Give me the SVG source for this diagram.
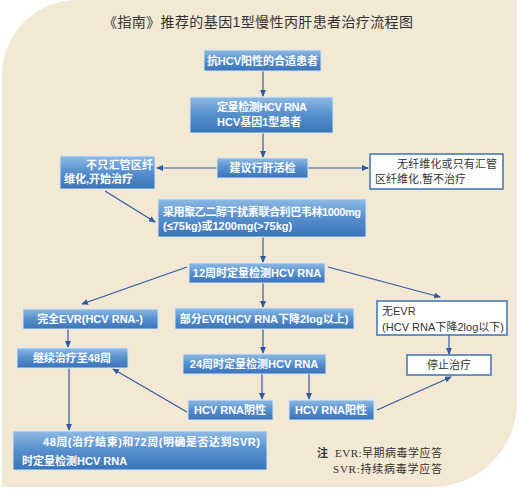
<svg xmlns="http://www.w3.org/2000/svg" width="519" height="491" viewBox="0 0 519 491">
<defs>
<linearGradient id="bg" x1="0" y1="0" x2="0" y2="1">
<stop offset="0" stop-color="#8fbbe6"/>
<stop offset="0.45" stop-color="#5a92cf"/>
<stop offset="1" stop-color="#3a73b8"/>
</linearGradient>
<marker id="ah" markerWidth="7" markerHeight="6" refX="6" refY="3" orient="auto" markerUnits="userSpaceOnUse">
<path d="M0,0 L7,3 L0,6 z" fill="#2f5ba5"/>
</marker>
<style>
.b{fill:url(#bg);stroke:#d6e5f4;stroke-width:1}
.w{fill:#ffffff;stroke:#3b72b6;stroke-width:1.5}
.t{font-family:"Liberation Sans","Noto Sans CJK SC",sans-serif;font-size:11px;font-weight:bold;fill:#ffffff}
.d{font-family:"Liberation Sans","Noto Sans CJK SC",sans-serif;font-size:11px;fill:#333333}
.c{text-anchor:middle}
.ln{stroke:#2f5ba5;stroke-width:1.2;fill:none;marker-end:url(#ah)}
.n{font-family:"Liberation Serif","Noto Sans CJK SC",serif;font-size:11px;fill:#333333}
</style>
</defs>
<rect x="0" y="0" width="519" height="491" fill="#ffffff"/>
<path d="M2,75 A75,75 0 0 1 77,0 L517,0 L517,402 A85,85 0 0 1 432,487 L2,487 Z" fill="#f3e8d3"/>
<text x="258" y="27" text-anchor="middle" font-family="Liberation Sans,'Noto Sans CJK SC',sans-serif" font-size="14" fill="#333333" textLength="310" lengthAdjust="spacing">《指南》推荐的基因1型慢性丙肝患者治疗流程图</text>

<g id="connectors">
<line class="ln" x1="263" y1="71" x2="263" y2="96"/>
<line class="ln" x1="263" y1="133" x2="263" y2="157"/>
<line class="ln" x1="217" y1="168" x2="157" y2="168"/>
<line class="ln" x1="308" y1="168" x2="368" y2="168"/>
<line class="ln" x1="105" y1="191" x2="155" y2="222"/>
<line class="ln" x1="263" y1="237" x2="263" y2="262"/>
<line class="ln" x1="187" y1="267" x2="82" y2="304"/>
<line class="ln" x1="328" y1="267" x2="440" y2="297"/>
<line class="ln" x1="263" y1="283" x2="263" y2="307"/>
<line class="ln" x1="68" y1="329" x2="68" y2="347"/>
<line class="ln" x1="263" y1="329" x2="263" y2="353"/>
<line class="ln" x1="449" y1="335" x2="449" y2="354"/>
<line class="ln" x1="69" y1="368" x2="69" y2="430"/>
<line class="ln" x1="262" y1="374" x2="262" y2="399"/>
<line class="ln" x1="309" y1="374" x2="309" y2="399"/>
<line class="ln" x1="187" y1="412" x2="113" y2="369"/>
<line class="ln" x1="377" y1="410" x2="451" y2="377"/>
</g>

<g id="n1"><rect class="b" x="204" y="50" width="117" height="21"/><text class="t c" x="262.5" y="64.5">抗HCV阳性的合适患者</text></g>
<g id="n2"><rect class="b" x="190" y="97" width="143" height="36"/><text class="t" x="217" y="111" textLength="90" lengthAdjust="spacing">定量检测HCV RNA</text><text class="t" x="217" y="126">HCV基因1型患者</text></g>
<g id="n3"><rect class="b" x="217" y="158" width="91" height="20"/><text class="t c" x="262.5" y="172">建议行肝活检</text></g>
<g id="n4"><rect class="b" x="60" y="156" width="95" height="33"/><text class="t" x="86" y="169" textLength="67" lengthAdjust="spacing">不只汇管区纤</text><text class="t" x="64" y="183">维化,开始治疗</text></g>
<g id="n5"><rect class="w" x="370" y="154" width="133" height="35"/><text class="d" x="397" y="168" textLength="100" lengthAdjust="spacing">无纤维化或只有汇管</text><text class="d" x="375" y="183">区纤维化,暂不治疗</text></g>
<g id="n6"><rect class="b" x="158" y="199" width="208" height="38"/><text class="t" x="163" y="216" textLength="198" lengthAdjust="spacing">采用聚乙二醇干扰素联合利巴韦林1000mg</text><text class="t" x="163" y="230">(≤75kg)或1200mg(&gt;75kg)</text></g>
<g id="n7"><rect class="b" x="189" y="263" width="136" height="20"/><text class="t c" x="257" y="277">12周时定量检测HCV RNA</text></g>
<g id="n8"><rect class="b" x="23" y="309" width="135" height="20"/><text class="t c" x="90" y="323">完全EVR(HCV RNA-)</text></g>
<g id="n9"><rect class="b" x="175" y="308" width="179" height="21"/><text class="t c" x="264" y="322.5">部分EVR(HCV RNA下降2log以上)</text></g>
<g id="n10"><rect class="w" x="377" y="301" width="130" height="34"/><text class="d" x="382" y="315">无EVR</text><text class="d" x="382" y="331" textLength="122" lengthAdjust="spacing">(HCV RNA下降2log以下)</text></g>
<g id="n11"><rect class="b" x="17" y="348" width="111" height="20"/><text class="t c" x="72" y="362">继续治疗至48周</text></g>
<g id="n12"><rect class="b" x="183" y="354" width="143" height="20"/><text class="t c" x="254" y="368">24周时定量检测HCV RNA</text></g>
<g id="n13"><rect class="w" x="407" y="355" width="84" height="20"/><text class="d c" x="449" y="369">停止治疗</text></g>
<g id="n14"><rect class="b" x="188" y="400" width="85" height="20"/><text class="t c" x="230" y="414">HCV RNA阴性</text></g>
<g id="n15"><rect class="b" x="289" y="400" width="85" height="20"/><text class="t c" x="331" y="414">HCV RNA阳性</text></g>
<g id="n16"><rect class="b" x="13" y="431" width="254" height="39"/><text class="t" x="43" y="446" textLength="217" lengthAdjust="spacing">48周(治疗结束)和72周(明确是否达到SVR)</text><text class="t" x="22" y="465">时定量检测HCV RNA</text></g>

<g id="note">
<text class="n" x="317" y="457" font-weight="bold">注</text>
<text class="n" x="335" y="457" textLength="107" lengthAdjust="spacing">EVR:早期病毒学应答</text>
<text class="n" x="333" y="473" textLength="109" lengthAdjust="spacing">SVR:持续病毒学应答</text>
</g>
</svg>
